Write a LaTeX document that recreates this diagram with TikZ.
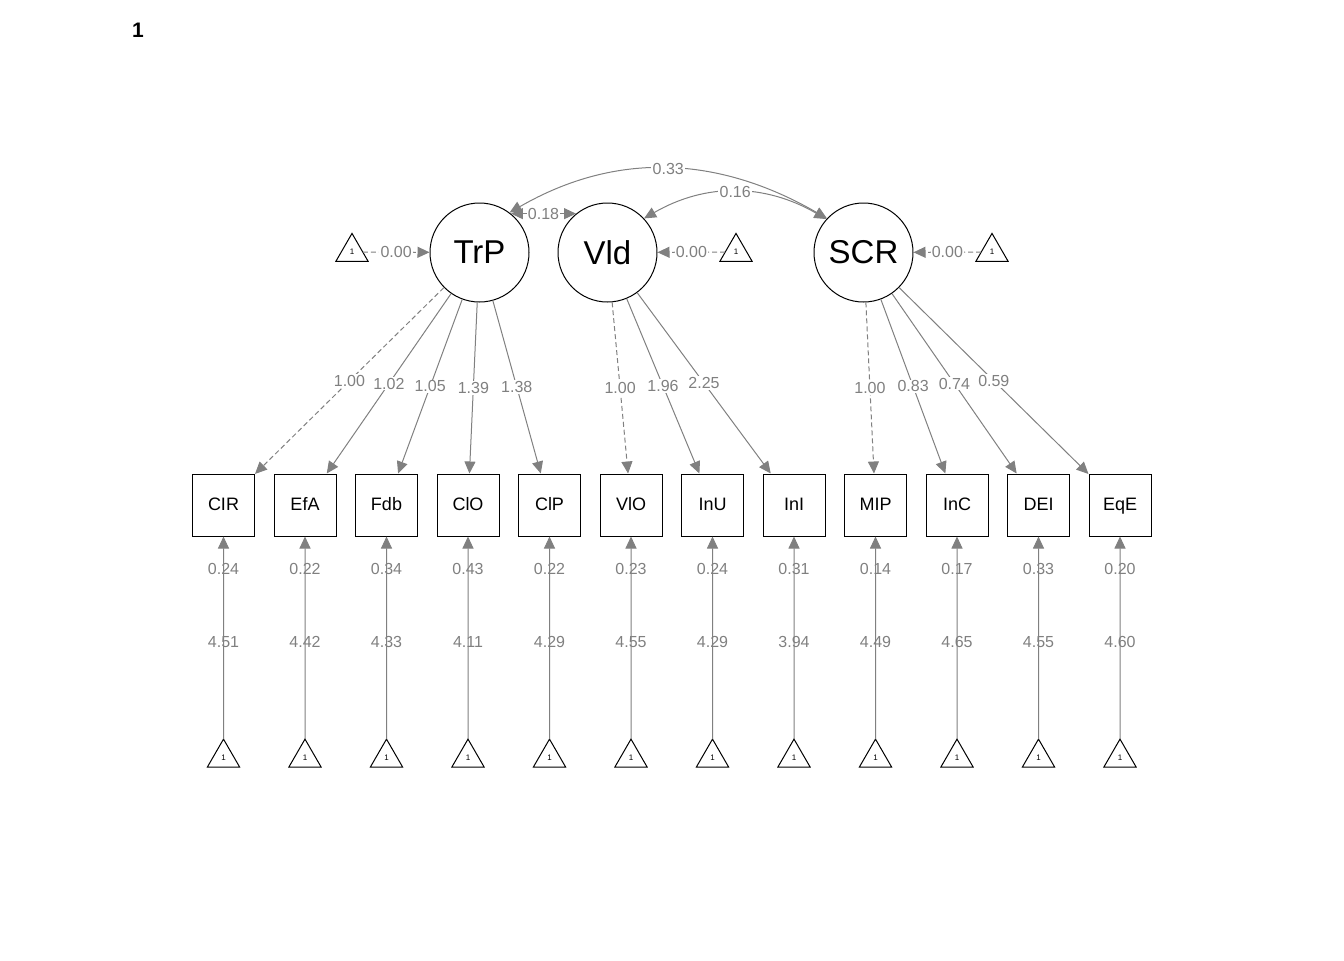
\documentclass[tikz,border=0pt]{standalone}
\usepackage{fontspec}
\setmainfont{Liberation Sans}
\usepackage{tikz}
\usetikzlibrary{shapes.geometric}
\usetikzlibrary{arrows.meta}
\tikzset{
    >={Triangle[length=6pt,width=5.5pt]},
    latent node/.style={shape=circle,draw=black,line width=0.5pt,minimum size=49.5pt,inner sep=0,font=\fontsize{16.5}{18}\selectfont},
    manifest node/.style={shape=rectangle,draw=black,line width=0.5pt,minimum size=31pt,inner sep=0,text height=0.72em,text depth=0.2em,font=\fontsize{9}{10}\selectfont},
    int node/.style={shape=regular polygon,regular polygon sides=3,draw=black,line width=0.5pt,minimum size=18.6pt,inner sep=0,outer sep=0,font=\fontsize{4}{4}\selectfont},
    path edge/.style={->,draw=gray,line width=0.5pt},
    fixed edge/.style={path edge,dash pattern=on 2.5pt off 1.5pt},
    cov edge/.style={<->,draw=gray,line width=0.5pt},
    est/.style={fill=white,text=gray,inner sep=0.6pt,font=\fontsize{8}{9}\selectfont},
    plain est/.style={text=gray,inner sep=0.6pt,font=\fontsize{8}{9}\selectfont}
}
\begin{document}
\begin{tikzpicture}[x=0.5pt,y=-0.5pt]
    \useasboundingbox (0,0) rectangle (1344,960);
    \node(title) at (138,30) [font=\bfseries\fontsize{10.5}{12}\selectfont] {1};
    % latent variables and their intercepts
    \node(TrP) at (479.5,252.5) [latent node] {TrP};
    \node(Vld) at (607.5,252.5) [latent node] {Vld};
    \node(SCR) at (863.5,252.5) [latent node] {SCR};
    \node(TrP-1) at (352,252) [int node] {1};
    \node(Vld-1) at (736,252) [int node] {1};
    \node(SCR-1) at (992,252) [int node] {1};
    \draw[fixed edge](TrP-1)--(TrP) node[est,midway]{0.00};
    \draw[fixed edge](Vld-1)--(Vld) node[est,midway]{0.00};
    \draw[fixed edge](SCR-1)--(SCR) node[est,midway]{0.00};
    % indicators
    \node(CIR) at (223.5,505) [manifest node] {CIR};
    \node(EfA) at (305,505) [manifest node] {EfA};
    \node(Fdb) at (386.5,505) [manifest node] {Fdb};
    \node(ClO) at (468,505) [manifest node] {ClO};
    \node(ClP) at (549.5,505) [manifest node] {ClP};
    \node(VlO) at (631,505) [manifest node] {VlO};
    \node(InU) at (712.5,505) [manifest node] {InU};
    \node(InI) at (794,505) [manifest node] {InI};
    \node(MIP) at (875.5,505) [manifest node] {MIP};
    \node(InC) at (957,505) [manifest node] {InC};
    \node(DEI) at (1038.5,505) [manifest node] {DEI};
    \node(EqE) at (1120,505) [manifest node] {EqE};
    % loadings
    \draw[fixed edge](TrP)--(CIR) node[est,midway]{1.00};
    \draw[path edge](TrP)--(EfA) node[est,midway]{1.02};
    \draw[path edge](TrP)--(Fdb) node[est,midway]{1.05};
    \draw[path edge](TrP)--(ClO) node[est,midway]{1.39};
    \draw[path edge](TrP)--(ClP) node[est,midway]{1.38};
    \draw[fixed edge](Vld)--(VlO) node[est,midway]{1.00};
    \draw[path edge](Vld)--(InU) node[est,midway]{1.96};
    \draw[path edge](Vld)--(InI) node[est,midway]{2.25};
    \draw[fixed edge](SCR)--(MIP) node[est,midway]{1.00};
    \draw[path edge](SCR)--(InC) node[est,midway]{0.83};
    \draw[path edge](SCR)--(DEI) node[est,midway]{0.74};
    \draw[path edge](SCR)--(EqE) node[est,midway]{0.59};
    % covariances
    \draw[cov edge](TrP.51)--(Vld.129) node[est,midway]{0.18};
    \draw[cov edge](TrP.53) to[out=30,in=150] node[est]{0.33} (SCR.137);
    \draw[cov edge](Vld.43) to[out=30,in=150] node[est]{0.16} (SCR.138);
    % intercepts of the indicators
    \node(CIR-1) at (223.5,757.7) [int node] {1};
    \node(EfA-1) at (305,757.7) [int node] {1};
    \node(Fdb-1) at (386.5,757.7) [int node] {1};
    \node(ClO-1) at (468,757.7) [int node] {1};
    \node(ClP-1) at (549.5,757.7) [int node] {1};
    \node(VlO-1) at (631,757.7) [int node] {1};
    \node(InU-1) at (712.5,757.7) [int node] {1};
    \node(InI-1) at (794,757.7) [int node] {1};
    \node(MIP-1) at (875.5,757.7) [int node] {1};
    \node(InC-1) at (957,757.7) [int node] {1};
    \node(DEI-1) at (1038.5,757.7) [int node] {1};
    \node(EqE-1) at (1120,757.7) [int node] {1};
    \draw[path edge](CIR-1)--(CIR) node[plain est,pos=0.48]{4.51} node[plain est,pos=0.84]{0.24};
    \draw[path edge](EfA-1)--(EfA) node[plain est,pos=0.48]{4.42} node[plain est,pos=0.84]{0.22};
    \draw[path edge](Fdb-1)--(Fdb) node[plain est,pos=0.48]{4.33} node[plain est,pos=0.84]{0.34};
    \draw[path edge](ClO-1)--(ClO) node[plain est,pos=0.48]{4.11} node[plain est,pos=0.84]{0.43};
    \draw[path edge](ClP-1)--(ClP) node[plain est,pos=0.48]{4.29} node[plain est,pos=0.84]{0.22};
    \draw[path edge](VlO-1)--(VlO) node[plain est,pos=0.48]{4.55} node[plain est,pos=0.84]{0.23};
    \draw[path edge](InU-1)--(InU) node[plain est,pos=0.48]{4.29} node[plain est,pos=0.84]{0.24};
    \draw[path edge](InI-1)--(InI) node[plain est,pos=0.48]{3.94} node[plain est,pos=0.84]{0.31};
    \draw[path edge](MIP-1)--(MIP) node[plain est,pos=0.48]{4.49} node[plain est,pos=0.84]{0.14};
    \draw[path edge](InC-1)--(InC) node[plain est,pos=0.48]{4.65} node[plain est,pos=0.84]{0.17};
    \draw[path edge](DEI-1)--(DEI) node[plain est,pos=0.48]{4.55} node[plain est,pos=0.84]{0.33};
    \draw[path edge](EqE-1)--(EqE) node[plain est,pos=0.48]{4.60} node[plain est,pos=0.84]{0.20};
\end{tikzpicture}
\end{document}
